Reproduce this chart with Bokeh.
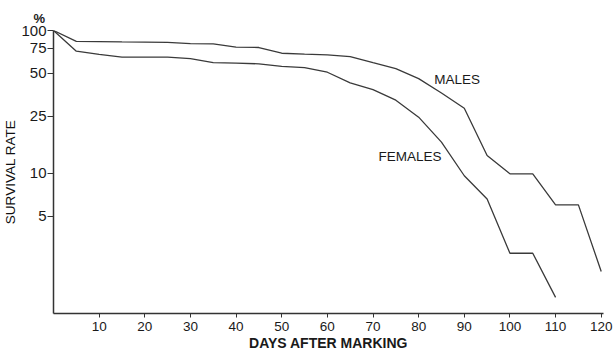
from bokeh.plotting import figure
from bokeh.models import Range1d, FixedTicker, CustomJSTickFormatter
from bokeh.core.properties import value
from bokeh.embed import file_html
from bokeh.resources import INLINE

days_males = [0, 5, 10, 15, 20, 25, 30, 35, 40, 45, 50, 55, 60, 65, 70, 75, 80, 85, 90, 95, 100, 105, 110, 115, 120]
males = [100, 84, 83.7, 83.3, 83, 82.5, 81, 80.6, 76.5, 76, 69.3, 68.3, 67.5, 65.7, 59.5, 54, 46, 36.5, 28.5, 13.3, 9.9, 9.9, 6.0, 6.0, 2.05]

days_females = [0, 5, 10, 15, 20, 25, 30, 35, 40, 45, 50, 55, 60, 65, 70, 75, 80, 85, 90, 95, 100, 105, 110]
females = [100, 71.6, 68, 65, 65, 65, 63.5, 59.6, 59, 58.4, 56, 55, 51, 43, 38.5, 32.5, 24.7, 16.5, 9.6, 6.6, 2.75, 2.75, 1.35]

x_ticks = [10, 20, 30, 40, 50, 60, 70, 80, 90, 100, 110, 120]
y_ticks = [5, 10, 25, 50, 75, 100]

FONT = "Liberation Sans"
INK = "#1a1a1a"

p = figure(width=613, height=354, output_backend="svg", toolbar_location=None,
           y_axis_type="log", title="%",
           x_range=Range1d(0, 120.5), y_range=Range1d(1.04, 100),
           min_border_left=50, min_border_right=10, min_border_top=30, min_border_bottom=41)
p.outline_line_color = None
p.xgrid.visible = False
p.ygrid.visible = False
p.background_fill_color = "white"
p.border_fill_color = "white"

p.title.align = "left"
p.title.offset = -20
p.title.text_font = FONT
p.title.text_font_size = "13px"
p.title.text_font_style = "bold"
p.title.text_color = INK
p.title.standoff = 10

p.line(days_males, males, line_color="#3a3a3a", line_width=1.3)
p.line(days_females, females, line_color="#3a3a3a", line_width=1.3)

p.text(x=[83.4], y=[45.4], text=["MALES"], text_font=value(FONT), text_font_size="13.5px",
       text_color=INK, text_align="left", text_baseline="middle")
p.text(x=[71.2], y=[13.1], text=["FEMALES"], text_font=value(FONT), text_font_size="13.5px",
       text_color=INK, text_align="left", text_baseline="middle")

xa = p.xaxis[0]
xa.ticker = FixedTicker(ticks=x_ticks)
xa.minor_tick_line_color = None
xa.major_tick_in = 0
xa.major_tick_out = 4
xa.axis_line_width = 1.5
xa.axis_line_color = "#333333"
xa.major_tick_line_color = "#333333"
xa.major_label_text_font = FONT
xa.major_label_text_font_size = "13.5px"
xa.major_label_text_color = INK
xa.major_label_standoff = 4
xa.axis_label = "DAYS AFTER MARKING"
xa.axis_label_text_font = FONT
xa.axis_label_text_font_size = "14px"
xa.axis_label_text_font_style = "bold"
xa.axis_label_text_color = INK
xa.axis_label_standoff = 1

ya = p.yaxis[0]
ya.ticker = FixedTicker(ticks=y_ticks)
ya.formatter = CustomJSTickFormatter(code="return String(Math.round(tick));")
ya.minor_tick_line_color = None
ya.major_tick_in = 0
ya.major_tick_out = 6
ya.axis_line_width = 1.5
ya.axis_line_color = "#333333"
ya.major_tick_line_color = "#333333"
ya.major_label_text_font = FONT
ya.major_label_text_font_size = "15px"
ya.major_label_text_color = INK
ya.major_label_standoff = 1
ya.axis_label = "SURVIVAL RATE"
ya.axis_label_text_font = FONT
ya.axis_label_text_font_size = "13.5px"
ya.axis_label_text_font_style = "normal"
ya.axis_label_text_color = "#111111"
ya.axis_label_standoff = 0

open("out.html", "w").write(file_html(p, INLINE))
